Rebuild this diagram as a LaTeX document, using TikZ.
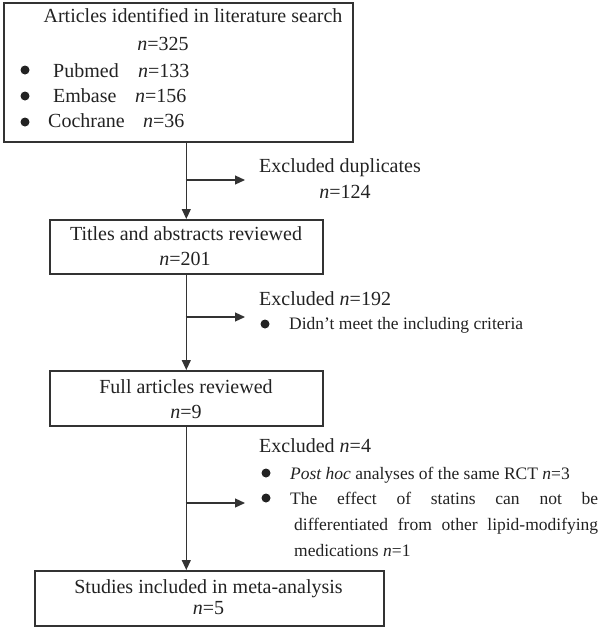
\documentclass[tikz,border=0pt]{standalone}
\usepackage{fontspec}
\setmainfont{Liberation Serif}
\usetikzlibrary{arrows.meta}
\definecolor{ink}{HTML}{222222}
\definecolor{frame}{HTML}{333333}
\begin{document}
\begin{tikzpicture}[x=1pt,y=-1pt,
  box/.style={draw=frame,line width=1.6pt,inner sep=0pt,anchor=north west},
  big/.style={font=\fontsize{20}{25}\selectfont,text=ink,inner sep=0pt},
  small/.style={font=\fontsize{17.5}{26}\selectfont,text=ink,inner sep=0pt},
  conn/.style={draw=frame,line width=1.2pt},
  arr/.style={conn,-{Triangle[length=10pt,width=9pt]}},
  dot/.style={circle,fill=ink,inner sep=0pt,minimum size=9pt}]
\useasboundingbox (0,0) rectangle (600,629);
% boxes
\node[box,minimum width=349pt,minimum height=139pt] (b1) at (3,2) {};
\node[box,minimum width=273pt,minimum height=54pt] (b2) at (49,219) {};
\node[box,minimum width=273pt,minimum height=55pt] (b3) at (49,370) {};
\node[box,minimum width=349pt,minimum height=55pt] (b4) at (34,570) {};
% box 1 text
\node[big,anchor=base] (t1a) at (193,23) {Articles identified in literature search};
\node[big,anchor=base] (t1b) at (163,50) {\textit{n}=325};
\node[dot] (d1) at (25,70) {};
\node[dot] (d2) at (25,96) {};
\node[dot] (d3) at (25,122) {};
\node[big,anchor=base west] (p1) at (53,77) {Pubmed};
\node[big,anchor=base west] (p2) at (138,77) {\textit{n}=133};
\node[big,anchor=base west] (e1) at (53,102) {Embase};
\node[big,anchor=base west] (e2) at (135,102) {\textit{n}=156};
\node[big,anchor=base west] (c1) at (48,127) {Cochrane};
\node[big,anchor=base west] (c2) at (143,127) {\textit{n}=36};
% box 2-4 text
\node[big,anchor=base] (t2a) at (186,240) {Titles and abstracts reviewed};
\node[big,anchor=base] (t2b) at (185,265) {\textit{n}=201};
\node[big,anchor=base] (t3a) at (186,393) {Full articles reviewed};
\node[big,anchor=base] (t3b) at (186,418) {\textit{n}=9};
\node[big,anchor=base] (t4a) at (208.5,593) {Studies included in meta-analysis};
\node[big,anchor=base] (t4b) at (208.5,614) {\textit{n}=5};
% exclusions
\node[big,anchor=base west] (x1a) at (259,172) {Excluded duplicates};
\node[big,anchor=base] (x1b) at (345,198) {\textit{n}=124};
\node[big,anchor=base west] (x2a) at (259,305) {Excluded \textit{n}=192};
\node[dot] (d4) at (265,324) {};
\node[small,anchor=base west] (x2b) at (289,329) {Didn’t meet the including criteria};
\node[big,anchor=base west] (x3a) at (259,452) {Excluded \textit{n}=4};
\node[dot] (d5) at (266,473) {};
\node[small,anchor=base west] (x3b) at (290,479) {\textit{Post hoc} analyses of the same RCT \textit{n}=3};
\node[dot] (d6) at (266,498) {};
\node[small,anchor=base west] (x3c) at (290,504) {\makebox[308pt][s]{The effect of statins can not be}};
\node[small,anchor=base west] (x3d) at (294,530) {\makebox[304pt][s]{differentiated from other lipid-modifying}};
\node[small,anchor=base west] (x3e) at (294,556) {medications \textit{n}=1};
% connectors
\coordinate (j1) at (185.5,180);
\coordinate (a1) at (245,180);
\coordinate (j2) at (185.5,317);
\coordinate (a2) at (245,317);
\coordinate (j3) at (185.5,503);
\coordinate (a3) at (245,503);
\draw[arr] (b1.south -| b2.north) -- (b2.north);
\draw[arr] (b2.south) -- (b3.north);
\draw[arr] (b3.south) -- (b4.north -| b3.south);
\draw[arr] (j1) -- (a1);
\draw[arr] (j2) -- (a2);
\draw[arr] (j3) -- (a3);
\end{tikzpicture}
\end{document}
